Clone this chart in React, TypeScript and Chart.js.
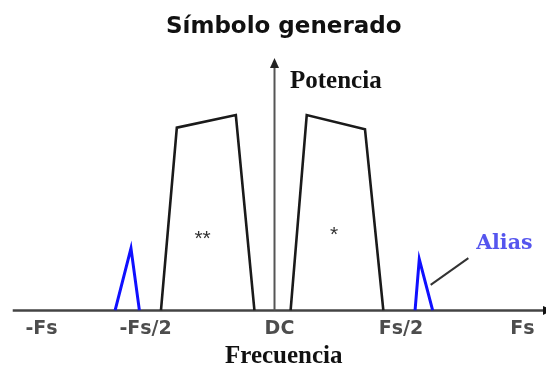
import { useEffect, useRef } from 'react';
import { Chart, registerables } from 'chart.js';

Chart.register(...registerables);

// Frequency axis: positions (in units of Fs) where the tick labels sit
const tickPositions = [-0.94, -0.52, 0.02, 0.51, 1.0];
const tickLabels = ['-Fs', '-Fs/2', 'DC', 'Fs/2', 'Fs'];
const axisStart = -1.056;

// Power spectrum of the generated symbol: two main bands around DC
const lowerBandX = [-0.458, -0.394, -0.156, -0.081];
const lowerBandY = [0, 72.4, 77.4, 0];
const upperBandX = [0.065, 0.13, 0.365, 0.439];
const upperBandY = [0, 77.4, 71.8, 0];

// Aliased images beyond ±Fs/2
const aliasLowX = [-0.643, -0.579, -0.545];
const aliasLowY = [0, 24.6, 0];
const aliasHighX = [0.567, 0.584, 0.638];
const aliasHighY = [0, 20.3, 0];

const toPoints = (xs: number[], ys: number[]) => xs.map((x, i) => ({ x, y: ys[i] }));

const diagramPlugin = {
  id: 'diagram',
  beforeDatasetsDraw(chart: any) {
    const { ctx, chartArea, scales } = chart;
    const { x, y } = scales;
    const y0 = y.getPixelForValue(0);
    const x0 = x.getPixelForValue(0);
    const top = y.getPixelForValue(100);
    ctx.save();
    // frequency axis with arrow at the right end
    ctx.strokeStyle = '#444';
    ctx.lineWidth = 2.5;
    ctx.beginPath();
    ctx.moveTo(x.getPixelForValue(axisStart), y0);
    ctx.lineTo(chartArea.right, y0);
    ctx.stroke();
    ctx.fillStyle = '#111';
    ctx.beginPath();
    ctx.moveTo(chartArea.right + 7, y0);
    ctx.lineTo(chartArea.right - 3, y0 - 4.5);
    ctx.lineTo(chartArea.right - 3, y0 + 4.5);
    ctx.closePath();
    ctx.fill();
    // power axis with arrow at the top
    ctx.strokeStyle = '#555';
    ctx.lineWidth = 2;
    ctx.beginPath();
    ctx.moveTo(x0, y0);
    ctx.lineTo(x0, top + 8);
    ctx.stroke();
    ctx.fillStyle = '#222';
    ctx.beginPath();
    ctx.moveTo(x0, top);
    ctx.lineTo(x0 - 4.5, top + 10);
    ctx.lineTo(x0 + 4.5, top + 10);
    ctx.closePath();
    ctx.fill();
    ctx.restore();
  },
  afterDatasetsDraw(chart: any) {
    const { ctx, scales } = chart;
    const { x, y } = scales;
    const px = (v: number) => x.getPixelForValue(v);
    const py = (v: number) => y.getPixelForValue(v);
    ctx.save();
    // axis name for power
    ctx.fillStyle = '#111';
    ctx.font = 'bold 25px "Liberation Serif"';
    ctx.textAlign = 'left';
    ctx.textBaseline = 'alphabetic';
    ctx.fillText('Potencia', px(0) + 15.5, py(88.1));
    // band markers
    ctx.fillStyle = '#333';
    ctx.font = '21px "Liberation Sans"';
    ctx.textAlign = 'center';
    ctx.fillText('**', px(-0.29), py(30.3) + 11);
    ctx.fillText('*', px(0.24), py(31.9) + 11);
    // alias callout
    ctx.strokeStyle = '#333';
    ctx.lineWidth = 2;
    ctx.beginPath();
    ctx.moveTo(px(0.782), py(20.7));
    ctx.lineTo(px(0.63), py(10.1));
    ctx.stroke();
    ctx.fillStyle = '#5555ee';
    ctx.font = 'bold 20.5px "DejaVu Serif"';
    ctx.textAlign = 'center';
    ctx.fillText('Alias', px(0.927), py(24.2));
    ctx.restore();
  },
};

export default function App() {
  const canvasRef = useRef<HTMLCanvasElement | null>(null);

  useEffect(() => {
    if (!canvasRef.current) return;
    const bandStyle = {
      showLine: true,
      pointRadius: 0,
      fill: false,
      tension: 0,
      borderJoinStyle: 'miter' as const,
    };
    const chart = new Chart(canvasRef.current, {
      type: 'scatter',
      data: {
        datasets: [
          { ...bandStyle, data: toPoints(lowerBandX, lowerBandY), borderColor: '#1a1a1a', borderWidth: 2.6 },
          { ...bandStyle, data: toPoints(upperBandX, upperBandY), borderColor: '#1a1a1a', borderWidth: 2.6 },
          { ...bandStyle, data: toPoints(aliasLowX, aliasLowY), borderColor: '#1010ff', borderWidth: 3 },
          { ...bandStyle, data: toPoints(aliasHighX, aliasHighY), borderColor: '#1010ff', borderWidth: 3 },
        ],
      },
      options: {
        animation: false,
        responsive: true,
        maintainAspectRatio: false,
        events: [],
        layout: { padding: { left: 21.5, right: 0, top: 0, bottom: 0 } },
        plugins: {
          legend: { display: false },
          tooltip: { enabled: false },
          title: {
            display: true,
            text: 'Símbolo generado',
            color: '#111',
            font: { family: 'DejaVu Sans', size: 23, weight: 'bold', lineHeight: 1.2 },
            padding: { top: 13, bottom: 17.4 },
          },
        },
        scales: {
          x: {
            type: 'linear',
            min: -1.0206,
            max: 1.0952,
            grid: { display: false, drawTicks: false },
            border: { display: false },
            afterBuildTicks: (scale: any) => {
              scale.ticks = tickPositions.map((value) => ({ value }));
            },
            ticks: {
              autoSkip: false,
              maxRotation: 0,
              padding: 9.3,
              color: '#4d4d4d',
              font: { family: 'DejaVu Sans', size: 19, weight: 'bold', lineHeight: 1 },
              callback: (_value: any, index: number) => tickLabels[index],
            },
            title: {
              display: true,
              text: 'Frecuencia',
              color: '#111',
              font: { family: 'Liberation Serif', size: 25, weight: 'bold', lineHeight: 1 },
              padding: { top: -4, bottom: 0 },
            },
          },
          y: { display: false, min: 0, max: 100 },
        },
      },
      plugins: [diagramPlugin],
    });
    return () => chart.destroy();
  }, []);

  return (
    <div style={{ position: 'absolute', left: 0, top: 0, width: 546, height: 369, background: '#fff' }}>
      <canvas ref={canvasRef} />
    </div>
  );
}
